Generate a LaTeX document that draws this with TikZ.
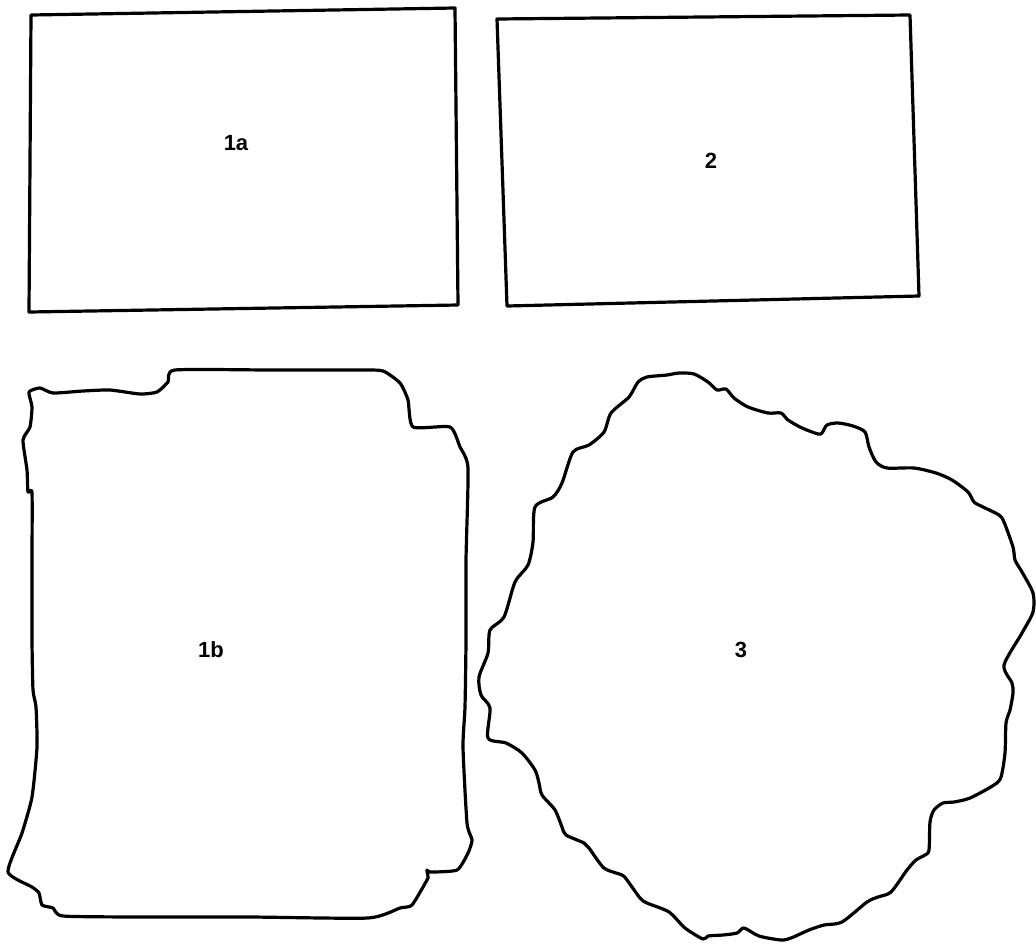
\documentclass[tikz,border=0pt]{standalone}
\usepackage{fontspec}
\setmainfont{Liberation Sans}
\tikzset{
  outline/.style={line width=3.2pt, line join=round},
  piecelabel/.style={font=\bfseries\fontsize{22}{22}\selectfont}
}
\begin{document}
\begin{tikzpicture}[x=1pt,y=-1pt]
    \useasboundingbox (0,0) rectangle (1036,943);

    % top row: the two plain sheets
    \draw[outline] (31,15) -- (455,8) -- (458,305) -- (29,312) -- cycle;
    \node[piecelabel] (lab1a) at (236,143) {1a};

    \draw[outline] (497,19) -- (910,15) -- (919,296) -- (507,306) -- cycle;
    \node[piecelabel] (lab2) at (711,161) {2};

    % bottom left: torn sheet
    \draw[outline] plot[smooth cycle, tension=0.35] coordinates {
        (29,392) (40,388) (53,393) (83,391) (110,390) (140,394) (157,392)
        (168,382) (175,370) (270,370) (360,370) (383,371) (400,383)
        (408,400) (413,427) (450,427) (460,447) (468,468) (466,560)
        (466,640) (465,707) (463,747) (467,823) (472,840) (468,853)
        (457,870) (430,872) (427,870) (428,877) (427,880) (412,905)
        (400,908) (368,918) (250,917) (140,917) (63,916) (53,908)
        (42,905) (39,893) (32,887) (8,872) (22,833) (32,797) (37,747)
        (36,707) (33,690) (32,640) (32,560) (32,493) (28,492) (27,470)
        (23,440) (30,427) (32,407)};
    \node[piecelabel] (lab1b) at (211,650) {1b};

    % bottom right: round, ragged piece
    \draw[outline] plot[smooth cycle, tension=0.45] coordinates {
        (638,382) (647,377) (667,375) (679,373) (694,374) (708,382)
        (717,390) (726,389) (734,398) (748,407) (768,413) (781,413)
        (788,420) (802,428) (818,434) (822,433) (827,425) (838,423)
        (853,426) (865,432) (869,447) (876,462) (887,468) (914,468)
        (936,473) (952,480) (968,492) (974,502) (983,507) (999,515)
        (1004,522) (1013,547) (1015,560) (1022,572) (1033,593)
        (1033,612) (1022,633) (1004,665) (1012,683) (1013,693)
        (1010,710) (1006,723) (1005,753) (1001,777) (994,785) (970,798)
        (954,802) (943,803) (934,810) (930,822) (929,850) (925,855)
        (916,860) (907,870) (891,892) (878,897) (867,902) (842,922)
        (824,925) (809,930) (791,938) (781,940) (759,936) (744,928)
        (737,933) (723,935) (708,936) (703,939) (685,928) (669,912)
        (647,903) (640,898) (627,880) (622,875) (604,868) (589,848)
        (584,843) (566,835) (562,827) (555,810) (542,795) (539,783)
        (535,770) (522,753) (506,743) (488,738) (490,708) (481,695)
        (479,677) (488,653) (490,630) (504,617) (515,582) (528,565)
        (533,542) (535,507) (553,497) (562,483) (573,452) (589,445)
        (604,432) (611,413) (629,397)};
    \node[piecelabel] (lab3) at (741,650) {3};
\end{tikzpicture}
\end{document}
